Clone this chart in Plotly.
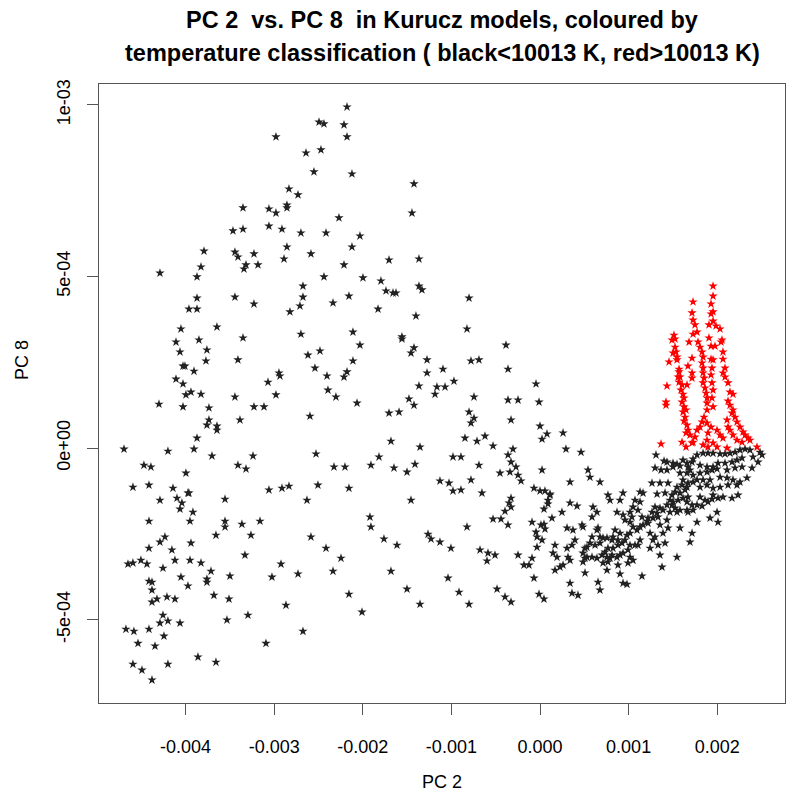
import plotly.graph_objects as go

# ---- data (PC values in units of 1e-3) ----
X_TICKS = [-0.004, -0.003, -0.002, -0.001, 0.0, 0.001, 0.002]
X_TICK_LABELS = ["-0.004", "-0.003", "-0.002", "-0.001", "0.000", "0.001", "0.002"]
Y_TICKS = [-5e-4, 0.0, 5e-4, 1e-3]
Y_TICK_LABELS = ["-5e-04", "0e+00", "5e-04", "1e-03"]

BLACK_UPPER_LEFT = [
    (-2.494, 0.950), (-2.438, 0.945), (-2.980, 0.907), (-2.641, 0.860), (-2.472, 0.869),
    (-2.551, 0.805), (-2.833, 0.755), (-2.731, 0.738), (-3.352, 0.700), (-3.059, 0.697),
    (-2.980, 0.685), (-2.856, 0.708), (-2.856, 0.700), (-3.465, 0.633), (-3.352, 0.638),
    (-3.059, 0.647), (-2.912, 0.638), (-2.698, 0.627), (-2.415, 0.627), (-3.792, 0.574),
    (-3.443, 0.571), (-3.409, 0.557), (-3.228, 0.566), (-2.856, 0.586), (-2.585, 0.566),
    (-3.826, 0.528), (-3.318, 0.534), (-3.341, 0.522), (-3.183, 0.534), (-2.889, 0.551),
    (-2.438, 0.499), (-4.289, 0.510), (-3.871, 0.499), (-2.675, 0.472), (-3.871, 0.437),
    (-3.443, 0.440), (-2.675, 0.440),
]
BLACK_UPPER_MID = [
    (-2.178, 0.994), (-2.212, 0.942), (-2.178, 0.907), (-2.122, 0.799), (-1.422, 0.770),
    (-2.269, 0.671), (-1.445, 0.685), (-2.032, 0.618), (-2.122, 0.586), (-2.212, 0.534),
    (-1.704, 0.548), (-1.366, 0.551), (-1.998, 0.496), (-1.795, 0.487), (-1.738, 0.458),
    (-1.659, 0.452), (-1.625, 0.452), (-1.366, 0.472), (-1.332, 0.461), (-2.156, 0.443),
    (-0.801, 0.437),
]
BLACK_MID_LEFT = [
    (-3.228, 0.420), (-3.962, 0.405), (-3.871, 0.405), (-2.822, 0.397), (-2.709, 0.414),
    (-4.052, 0.347), (-3.646, 0.353), (-2.698, 0.332), (-4.108, 0.309), (-3.849, 0.315),
    (-3.352, 0.321), (-4.063, 0.280), (-3.759, 0.286), (-2.619, 0.271), (-2.483, 0.283),
    (-3.770, 0.254), (-3.409, 0.257), (-4.029, 0.239), (-4.007, 0.239), (-3.905, 0.224),
    (-2.540, 0.233), (-2.946, 0.219), (-2.935, 0.210), (-2.404, 0.210), (-4.108, 0.201),
    (-4.029, 0.187), (-3.070, 0.192), (-3.996, 0.155), (-3.939, 0.163), (-3.826, 0.157),
    (-2.980, 0.155), (-2.393, 0.169), (-4.300, 0.128), (-4.029, 0.120), (-3.443, 0.149),
    (-3.736, 0.117), (-3.228, 0.120), (-3.115, 0.120), (-3.736, 0.082), (-3.386, 0.082),
    (-2.596, 0.093), (-3.759, 0.067), (-3.646, 0.064), (-3.646, 0.052), (-3.871, 0.029),
    (-4.695, -0.003), (-4.199, -0.009), (-3.905, -0.003), (-3.702, -0.023), (-3.239, -0.023),
    (-2.528, -0.017), (-4.470, -0.050), (-4.391, -0.055), (-3.409, -0.050), (-3.318, -0.061),
    (-3.996, -0.073), (-4.594, -0.114), (-4.413, -0.108), (-4.142, -0.117), (-3.973, -0.131),
    (-3.962, -0.131), (-3.059, -0.122), (-2.912, -0.117), (-2.833, -0.111), (-2.506, -0.108),
    (-4.289, -0.152), (-4.097, -0.146), (-3.555, -0.149), (-2.630, -0.152),
]
BLACK_LOWER_LEFT = [
    (-4.041, -0.160), (-4.063, -0.178), (-3.917, -0.187), (-4.413, -0.213), (-3.950, -0.213),
    (-3.555, -0.213), (-3.555, -0.230), (-3.364, -0.222), (-3.160, -0.213), (-4.233, -0.259),
    (-4.289, -0.274), (-3.657, -0.254), (-3.262, -0.254), (-2.585, -0.259), (-4.413, -0.292),
    (-4.154, -0.297), (-3.939, -0.277), (-2.415, -0.292), (-3.330, -0.312), (-4.650, -0.338),
    (-4.594, -0.335), (-4.504, -0.327), (-4.436, -0.338), (-4.120, -0.327), (-3.950, -0.327),
    (-3.826, -0.335), (-4.255, -0.350), (-2.923, -0.338), (-3.713, -0.359), (-4.052, -0.376),
    (-3.759, -0.382), (-3.759, -0.391), (-3.499, -0.373), (-3.025, -0.376), (-2.731, -0.367),
    (-4.413, -0.388), (-4.379, -0.391), (-3.973, -0.402), (-4.379, -0.414), (-3.680, -0.429),
    (-4.210, -0.434), (-4.120, -0.440), (-4.323, -0.440), (-4.379, -0.449), (-3.510, -0.440),
    (-2.867, -0.458), (-4.255, -0.487), (-4.289, -0.510), (-4.199, -0.504), (-4.063, -0.510),
    (-3.296, -0.487), (-3.533, -0.501), (-4.673, -0.528), (-4.583, -0.534), (-4.413, -0.528),
    (-2.675, -0.534), (-4.244, -0.548), (-4.537, -0.569), (-4.345, -0.577), (-3.093, -0.569),
    (-3.860, -0.609), (-3.657, -0.624), (-4.594, -0.630), (-4.199, -0.630), (-4.492, -0.647),
    (-4.379, -0.676),
]
BLACK_MID_CENTER = [
    (-2.336, 0.423), (-1.828, 0.405), (-1.400, 0.385), (-2.111, 0.338), (-0.824, 0.347),
    (-2.032, 0.300), (-1.558, 0.324), (-1.558, 0.318), (-0.384, 0.300), (-1.422, 0.292),
    (-1.456, 0.277), (-2.111, 0.254), (-1.275, 0.257), (-0.779, 0.254), (-0.689, 0.257),
    (-2.178, 0.222), (-2.212, 0.207), (-1.275, 0.219), (-1.095, 0.230), (-0.361, 0.230),
    (-0.971, 0.195), (-0.045, 0.187), (-1.366, 0.181), (-1.163, 0.178), (-1.072, 0.178),
    (-1.185, 0.157), (-2.303, 0.149), (-1.479, 0.143), (-1.422, 0.125), (-0.745, 0.149),
    (-0.361, 0.140), (-0.248, 0.140), (-0.011, 0.134), (-2.065, 0.131), (-1.704, 0.102),
    (-1.591, 0.105), (-0.801, 0.105), (-0.745, 0.087), (-0.779, 0.073), (-0.327, 0.082),
    (0.000, 0.064), (0.079, 0.041), (0.023, 0.026), (-0.847, 0.029), (-0.711, 0.020),
    (-0.621, 0.035), (-1.682, 0.020), (-1.354, 0.003), (-0.530, 0.006), (-0.305, -0.003),
    (-0.361, -0.020), (-1.817, -0.026), (-0.982, -0.026), (-0.892, -0.026), (-0.327, -0.041),
    (-0.271, -0.055), (-0.689, -0.050), (-2.325, -0.055), (-2.201, -0.055), (-1.908, -0.050),
    (-1.411, -0.047), (-1.648, -0.058), (-1.501, -0.070), (-0.451, -0.073), (-0.339, -0.070),
    (-0.248, -0.079), (-0.214, -0.096), (0.023, -0.064), (-0.779, -0.093), (-1.129, -0.096),
    (-1.027, -0.102), (-0.982, -0.125), (-0.892, -0.122), (-0.655, -0.131), (-2.156, -0.117),
    (-0.068, -0.117), (0.000, -0.125), (0.056, -0.125), (0.113, -0.134), (-0.327, -0.146),
    (-1.456, -0.152),
]
BLACK_LOWER_CENTER = [
    (-0.350, -0.160), (-0.327, -0.172), (-0.395, -0.184), (0.045, -0.178), (0.090, -0.163),
    (-1.919, -0.201), (-1.908, -0.230), (-0.530, -0.207), (-0.440, -0.207), (-0.361, -0.224),
    (-0.824, -0.230), (-0.090, -0.216), (0.011, -0.224), (0.045, -0.222), (0.056, -0.236),
    (-0.045, -0.245), (-0.034, -0.259), (-1.761, -0.265), (-1.614, -0.283), (-1.264, -0.251),
    (-1.230, -0.265), (-1.129, -0.274), (-1.005, -0.292), (-0.677, -0.297), (-0.587, -0.306),
    (-0.508, -0.312), (-0.598, -0.329), (-0.034, -0.289), (-0.248, -0.312), (-0.090, -0.321),
    (-0.181, -0.341), (-0.124, -0.341), (-2.246, -0.321), (-2.336, -0.359), (-1.682, -0.359),
    (-1.038, -0.379), (-0.068, -0.379), (-1.501, -0.411), (-0.914, -0.420), (-0.485, -0.411),
    (-0.395, -0.434), (-0.327, -0.449), (-0.011, -0.426), (0.045, -0.440), (-2.156, -0.426),
    (-1.354, -0.455), (-0.801, -0.455), (-2.009, -0.478),
]
BLACK_RIGHT = [
    (0.260, 0.044), (0.293, -0.003), (0.463, -0.012),
    (1.309, -0.020), (1.400, -0.038), (1.433, -0.041), (1.501, -0.044), (1.546, -0.047),
    (1.614, -0.035), (1.659, -0.044), (1.716, -0.041), (1.727, -0.032), (1.772, -0.020),
    (1.840, -0.015), (1.896, -0.015), (1.953, -0.015), (2.032, -0.017), (2.088, -0.017),
    (2.144, -0.015), (2.201, -0.012), (2.257, -0.006), (2.314, -0.003), (2.370, -0.006),
    (2.483, -0.012), (2.506, -0.020), (1.298, -0.058), (1.366, -0.064), (1.433, -0.064),
    (1.501, -0.055), (1.580, -0.052), (1.670, -0.055), (1.693, -0.064), (1.580, -0.073),
    (1.659, -0.073), (1.727, -0.079), (1.806, -0.050), (1.885, -0.055), (1.953, -0.055),
    (2.009, -0.044), (2.088, -0.044), (2.167, -0.041), (2.223, -0.035), (2.280, -0.029),
    (2.404, -0.026), (2.461, -0.041), (1.806, -0.073), (1.885, -0.070), (1.941, -0.064),
    (1.998, -0.061), (2.032, -0.085), (2.111, -0.087), (2.178, -0.093), (2.257, -0.099),
    (2.111, -0.064), (2.201, -0.058), (2.280, -0.055), (2.393, -0.058), (2.336, -0.087),
    (1.840, -0.093), (1.919, -0.093), (1.772, -0.093), (1.614, -0.093), (1.670, -0.102),
    (1.727, -0.099), (1.264, -0.102), (1.354, -0.102), (1.445, -0.102), (1.546, -0.114),
    (1.603, -0.108), (1.659, -0.114), (1.806, -0.114), (1.885, -0.108), (1.953, -0.117),
    (2.032, -0.114), (2.122, -0.108), (2.223, -0.108), (1.524, -0.128), (1.580, -0.131),
    (1.637, -0.122), (1.129, -0.128), (1.163, -0.131), (1.321, -0.134), (1.411, -0.131),
    (1.490, -0.137), (1.953, -0.137), (2.009, -0.146), (2.065, -0.143), (2.167, -0.146),
    (2.235, -0.137), (1.806, -0.143), (1.862, -0.152), (1.941, -0.149), (1.896, -0.157),
    (1.467, -0.152), (1.501, -0.157), (1.558, -0.152), (1.614, -0.146), (1.670, -0.143),
    (1.659, -0.157), (1.716, -0.166), (1.772, -0.166), (1.829, -0.169), (1.433, -0.166),
    (1.490, -0.166), (1.524, -0.175), (1.580, -0.181), (1.659, -0.181), (1.298, -0.172),
    (1.354, -0.175), (1.388, -0.181), (1.129, -0.157), (1.072, -0.152), (0.767, -0.137),
    (0.790, -0.152), (0.903, -0.152), (0.937, -0.131), (1.050, -0.172), (1.016, -0.187),
    (1.038, -0.201), (0.869, -0.187), (0.937, -0.195), (1.264, -0.187), (1.321, -0.190),
    (1.332, -0.201), (1.275, -0.204), (1.219, -0.204), (1.467, -0.187), (1.546, -0.187),
    (1.670, -0.187), (1.727, -0.181), (1.998, -0.187), (2.009, -0.216), (1.919, -0.204),
    (1.772, -0.216), (0.598, -0.172), (0.643, -0.187), (0.587, -0.201), (0.339, -0.160),
    (0.418, -0.169), (0.248, -0.187), (0.135, -0.204), (1.208, -0.213), (1.219, -0.219),
    (1.163, -0.224), (1.129, -0.230), (1.354, -0.224), (1.433, -0.210), (1.445, -0.233),
    (1.580, -0.233), (1.716, -0.248), (1.693, -0.274), (1.050, -0.230), (1.095, -0.239),
    (1.016, -0.248), (0.982, -0.254), (0.903, -0.248), (0.847, -0.239), (0.824, -0.259),
    (1.242, -0.248), (1.298, -0.259), (1.275, -0.268), (1.388, -0.248), (1.411, -0.277),
    (1.332, -0.283), (1.242, -0.292), (1.129, -0.268), (1.106, -0.283), (1.072, -0.283),
    (1.016, -0.283), (0.959, -0.268), (0.926, -0.277), (0.880, -0.268), (0.813, -0.268),
    (0.756, -0.262), (0.677, -0.259), (0.711, -0.262), (0.643, -0.239), (0.655, -0.233),
    (0.485, -0.230), (0.474, -0.224), (0.372, -0.239), (0.305, -0.233), (0.587, -0.259),
    (0.564, -0.277), (0.621, -0.283), (0.677, -0.277), (0.880, -0.283), (0.824, -0.292),
    (0.767, -0.292), (0.734, -0.303), (0.993, -0.297), (0.937, -0.306), (0.903, -0.312),
    (0.869, -0.318), (0.530, -0.289), (0.508, -0.292), (0.485, -0.306), (0.530, -0.318),
    (0.587, -0.318), (0.643, -0.321), (0.700, -0.312), (0.756, -0.318), (0.790, -0.321),
    (0.395, -0.268), (0.361, -0.283), (0.305, -0.292), (0.316, -0.318), (0.339, -0.327),
    (0.169, -0.283), (0.147, -0.306), (0.192, -0.318), (0.023, -0.268), (0.090, -0.152),
    (0.113, -0.137), (0.339, -0.099), (0.542, -0.064), (0.564, -0.085), (0.677, -0.099),
    (0.226, -0.347), (0.169, -0.356), (0.260, -0.341), (0.508, -0.321), (0.485, -0.332),
    (0.508, -0.364), (0.711, -0.335), (0.767, -0.332), (0.813, -0.312), (0.880, -0.341),
    (0.993, -0.335), (1.050, -0.327), (1.016, -0.318), (1.354, -0.312), (1.377, -0.347),
    (1.546, -0.318), (0.756, -0.356), (0.903, -0.367), (0.937, -0.394), (0.982, -0.397),
    (0.655, -0.391), (0.677, -0.414), (1.151, -0.373), (0.339, -0.394), (0.361, -0.423),
    (0.429, -0.429), (1.016, -0.216), (0.959, -0.210), (1.151, -0.201), (1.106, -0.181),
]
RED_HOT = [
    (1.512, 0.329), (1.490, 0.315), (1.524, 0.318), (1.524, 0.294), (1.535, 0.280),
    (1.501, 0.277), (1.456, 0.251), (1.546, 0.265), (1.546, 0.257), (1.569, 0.230),
    (1.569, 0.222), (1.558, 0.207), (1.580, 0.207), (1.569, 0.192), (1.433, 0.181),
    (1.603, 0.184), (1.659, 0.184), (1.591, 0.169), (1.614, 0.157), (1.625, 0.146),
    (1.603, 0.134), (1.422, 0.134), (1.422, 0.125), (1.625, 0.120), (1.614, 0.105),
    (1.648, 0.111), (1.637, 0.090), (1.625, 0.079), (1.659, 0.067), (1.670, 0.052),
    (1.693, 0.038), (1.648, 0.044), (1.603, 0.017), (1.716, 0.015), (1.648, 0.003),
    (1.366, 0.012),
    (1.727, 0.426), (1.716, 0.394), (1.727, 0.373), (1.749, 0.359), (1.772, 0.338),
    (1.727, 0.332), (1.682, 0.309), (1.783, 0.309), (1.806, 0.294), (1.829, 0.280),
    (1.716, 0.262), (1.670, 0.239), (1.840, 0.265), (1.829, 0.248), (1.840, 0.233),
    (1.716, 0.219), (1.716, 0.204), (1.840, 0.219), (1.851, 0.204), (1.840, 0.190),
    (1.862, 0.175), (1.874, 0.160), (1.885, 0.146), (1.885, 0.131), (1.885, 0.111),
    (1.851, 0.090), (1.829, 0.076), (1.806, 0.061), (1.772, 0.052), (1.749, 0.032),
    (1.727, 0.017), (1.885, 0.073), (1.930, 0.061), (1.896, 0.044), (1.885, 0.023),
    (1.953, 0.472), (1.953, 0.443), (1.930, 0.420), (1.953, 0.397), (1.930, 0.391),
    (1.953, 0.370), (1.907, 0.359), (1.986, 0.356), (2.032, 0.347), (1.907, 0.321),
    (1.930, 0.297), (1.975, 0.297), (2.054, 0.315), (2.043, 0.309), (2.065, 0.280),
    (2.065, 0.259), (1.930, 0.259), (1.953, 0.257), (1.941, 0.233), (2.088, 0.233),
    (2.065, 0.219), (2.088, 0.207), (1.930, 0.213), (1.941, 0.190), (1.953, 0.169),
    (1.941, 0.146), (1.953, 0.120), (2.122, 0.190), (2.144, 0.163), (2.178, 0.157),
    (2.122, 0.137), (2.144, 0.125), (2.178, 0.111), (2.201, 0.090), (2.167, 0.102),
    (2.223, 0.076), (2.257, 0.061), (2.291, 0.047), (2.314, 0.038), (2.348, 0.029),
    (2.111, 0.082), (2.122, 0.061), (2.144, 0.052), (1.998, 0.052), (2.032, 0.038),
    (2.065, 0.029), (2.178, 0.038), (2.223, 0.023), (2.280, 0.017), (2.370, 0.023),
    (2.449, 0.003), (1.953, 0.015), (1.998, 0.003), (2.111, 0.000), (1.840, 0.009),
    (1.896, 0.003),
]

SCALE = 1e-3  # values above are stored in units of 1e-3


def split(pairs):
    return [p[0] * SCALE for p in pairs], [p[1] * SCALE for p in pairs]


black = (BLACK_UPPER_LEFT + BLACK_UPPER_MID + BLACK_MID_LEFT + BLACK_LOWER_LEFT
         + BLACK_MID_CENTER + BLACK_LOWER_CENTER + BLACK_RIGHT)
bx, by = split(black)
rx, ry = split(RED_HOT)

FONT = "Liberation Sans, Arial, Helvetica, sans-serif"

fig = go.Figure()
fig.add_trace(go.Scatter(x=bx, y=by, mode="markers", hoverinfo="skip",
                         marker=dict(symbol="star", size=7, color="#222222")))
fig.add_trace(go.Scatter(x=rx, y=ry, mode="markers", hoverinfo="skip",
                         marker=dict(symbol="star", size=7, color="#ff0000")))

fig.update_layout(
    width=786, height=795,
    margin=dict(l=99, r=1, t=84, b=92),
    plot_bgcolor="white", paper_bgcolor="white",
    showlegend=False,
    font=dict(family=FONT, size=18, color="black"),
)
axis_common = dict(showgrid=False, zeroline=False, showline=True, mirror=True,
                   linecolor="#555555", linewidth=1, ticks="outside", ticklen=11,
                   tickcolor="#555555", tickwidth=1,
                   tickfont=dict(family=FONT, size=18, color="black"))
fig.update_xaxes(range=[-4.977e-3, 2.765e-3], tickvals=X_TICKS, ticktext=X_TICK_LABELS,
                 ticklabelstandoff=16, **axis_common)
fig.update_yaxes(range=[-0.743e-3, 1.061e-3], tickvals=Y_TICKS, ticktext=Y_TICK_LABELS,
                 tickangle=-90, ticklabelstandoff=10, **axis_common)

fig.add_annotation(text="<b>PC 2  vs. PC 8  in Kurucz models, coloured by</b>",
                   xref="paper", yref="paper", x=0.5, y=(703 - 20) / 619,
                   xanchor="center", yanchor="middle", showarrow=False,
                   font=dict(family=FONT, size=23.5, color="black"))
fig.add_annotation(text="<b>temperature classification ( black&lt;10013 K, red&gt;10013 K)</b>",
                   xref="paper", yref="paper", x=0.5, y=(703 - 53) / 619,
                   xanchor="center", yanchor="middle", showarrow=False,
                   font=dict(family=FONT, size=23.5, color="black"))
fig.add_annotation(text="PC 2", xref="paper", yref="paper", x=0.5, y=(703 - 782) / 619,
                   xanchor="center", yanchor="middle", showarrow=False,
                   font=dict(family=FONT, size=18, color="black"))
fig.add_annotation(text="PC 8", xref="paper", yref="paper", x=(22 - 99) / 686,
                   y=(703 - 360) / 619, textangle=-90,
                   xanchor="center", yanchor="middle", showarrow=False,
                   font=dict(family=FONT, size=18, color="black"))

fig.write_html("out.html")
